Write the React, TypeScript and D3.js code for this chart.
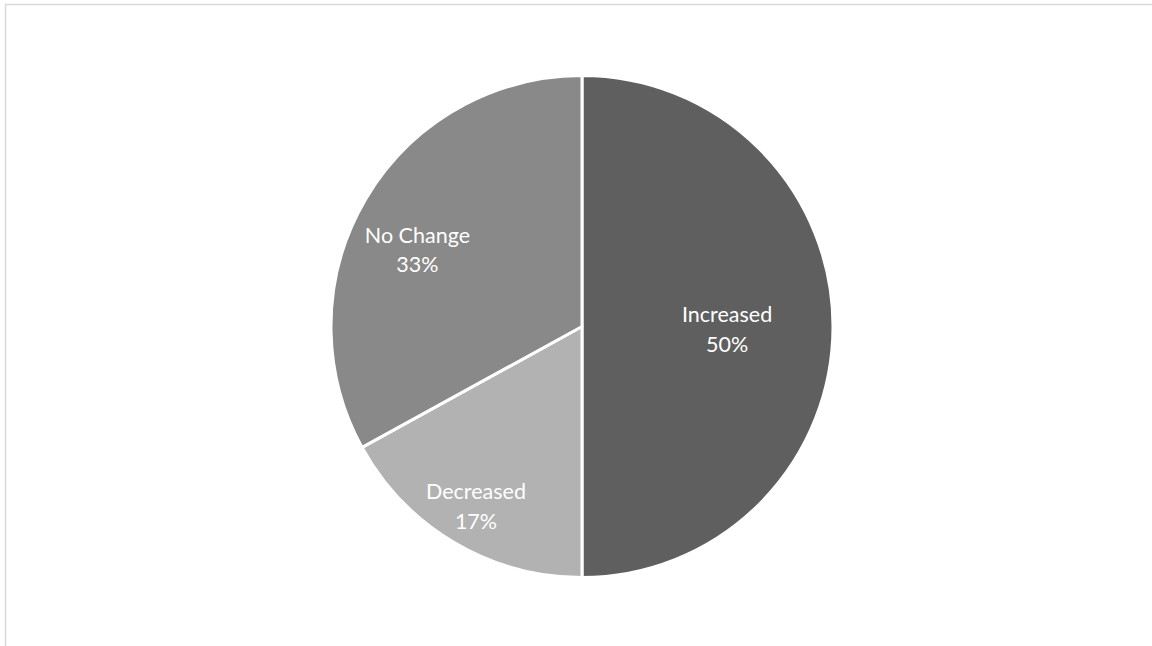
import React from "react";
import * as d3 from "d3";

const categories = ["Increased", "Decreased", "No Change"];
const values = [50, 17, 33];
const percentLabels = ["50%", "17%", "33%"];
const colors = ["#5f5f5f", "#b2b2b2", "#898989"];
// label placement: fraction of radius, and angular nudge (radians)
const labelRadius = [0.578, 0.823, 0.7275];
const labelNudge = [0, 0.005, -0.086];

const W = 1152;
const H = 646;

export default function App() {
  const cx = 582;
  const cy = 326.5;
  const r = 251;
  const pie = d3.pie<number>().sort(null).value((d) => d);
  const arcs = pie(values);
  const arcGen = d3.arc<d3.PieArcDatum<number>>().innerRadius(0).outerRadius(r);
  const fontFamily = "Lato, 'Open Sans', sans-serif";
  return (
    <svg
      width={W}
      height={H}
      style={{ position: "absolute", left: 0, top: 0, background: "#fff" }}
    >
      <rect x={5.5} y={4.5} width={W + 10} height={H + 10} fill="#fff" stroke="#d9d9d9" strokeWidth={1.5} />
      <g transform={`translate(${cx},${cy})`}>
        {arcs.map((a, i) => (
          <path key={categories[i]} d={arcGen(a) || ""} fill={colors[i]} stroke="#fff" strokeWidth={3} strokeLinejoin="round" />
        ))}
        {arcs.map((a, i) => {
          const mid = (a.startAngle + a.endAngle) / 2 + labelNudge[i];
          const lr = r * labelRadius[i];
          const x = Math.sin(mid) * lr;
          const y = -Math.cos(mid) * lr;
          return (
            <text
              key={"l" + i}
              x={x}
              y={y}
              textAnchor="middle"
              fill="#fff"
              fontFamily={fontFamily}
              fontSize={21.5}
            >
              <tspan x={x} dy={-4.5}>{categories[i]}</tspan>
              <tspan x={x} dy={29.5}>{percentLabels[i]}</tspan>
            </text>
          );
        })}
      </g>
    </svg>
  );
}
